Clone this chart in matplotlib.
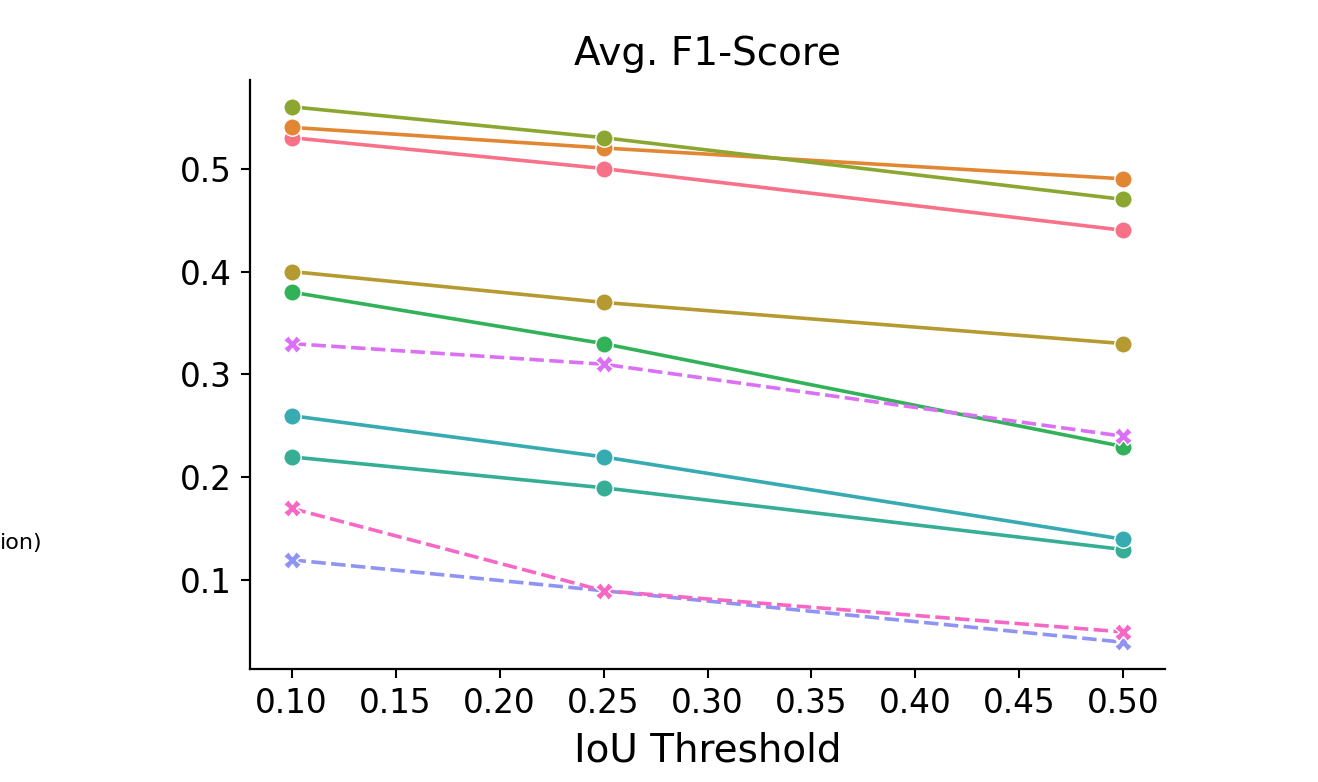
import numpy as np
import pandas as pd
import matplotlib
matplotlib.use("Agg")
import matplotlib.pyplot as plt
import seaborn as sns

thresholds = [0.10, 0.25, 0.50]
models = ["M1", "M2", "M3", "M4", "M5", "M6", "M7", "M8", "M9", "M10"]
kinds = ["a", "a", "a", "a", "a", "a", "a", "b", "b", "b"]
f1 = [
    [0.53, 0.50, 0.44],
    [0.54, 0.52, 0.49],
    [0.40, 0.37, 0.33],
    [0.56, 0.53, 0.47],
    [0.38, 0.33, 0.23],
    [0.22, 0.19, 0.13],
    [0.26, 0.22, 0.14],
    [0.12, 0.09, 0.04],
    [0.33, 0.31, 0.24],
    [0.17, 0.09, 0.05],
]

rows = []
for m, k, vals in zip(models, kinds, f1):
    for t, v in zip(thresholds, vals):
        rows.append({"model": m, "kind": k, "iou": t, "f1": v})
df = pd.DataFrame(rows)

# husl palette of 11, one level (blue) has no curve in this panel
pal = sns.color_palette("husl", 11)
pal = pal[:7] + pal[8:]

fig = plt.figure(figsize=(13.18, 7.82), dpi=100)
ax = fig.add_axes([0.1897, 0.1445, 0.6942, 0.7532])

sns.lineplot(data=df, x="iou", y="f1", hue="model", style="kind",
             palette=pal, markers=True,
             linewidth=2.6, markersize=12.5, markeredgecolor="white",
             markeredgewidth=1.0, legend=False, ax=ax)

ax.spines["top"].set_visible(False)
ax.spines["right"].set_visible(False)
for s in ["left", "bottom"]:
    ax.spines[s].set_linewidth(1.6)
ax.set_xticks([0.10, 0.15, 0.20, 0.25, 0.30, 0.35, 0.40, 0.45, 0.50])
ax.set_yticks([0.1, 0.2, 0.3, 0.4, 0.5])
ax.tick_params(labelsize=23.5, length=6.5, width=1.5, pad=6.5)
ax.set_title("Avg. F1-Score", fontsize=28, pad=11)
ax.set_xlabel("IoU Threshold", fontsize=28, labelpad=8)
ax.set_ylabel("")

# legend placed outside, only the end of one label is visible
fig.text(0.0, 0.305, "ion)", fontsize=16, ha="left", va="center")

fig.savefig("out.png", dpi=100)
